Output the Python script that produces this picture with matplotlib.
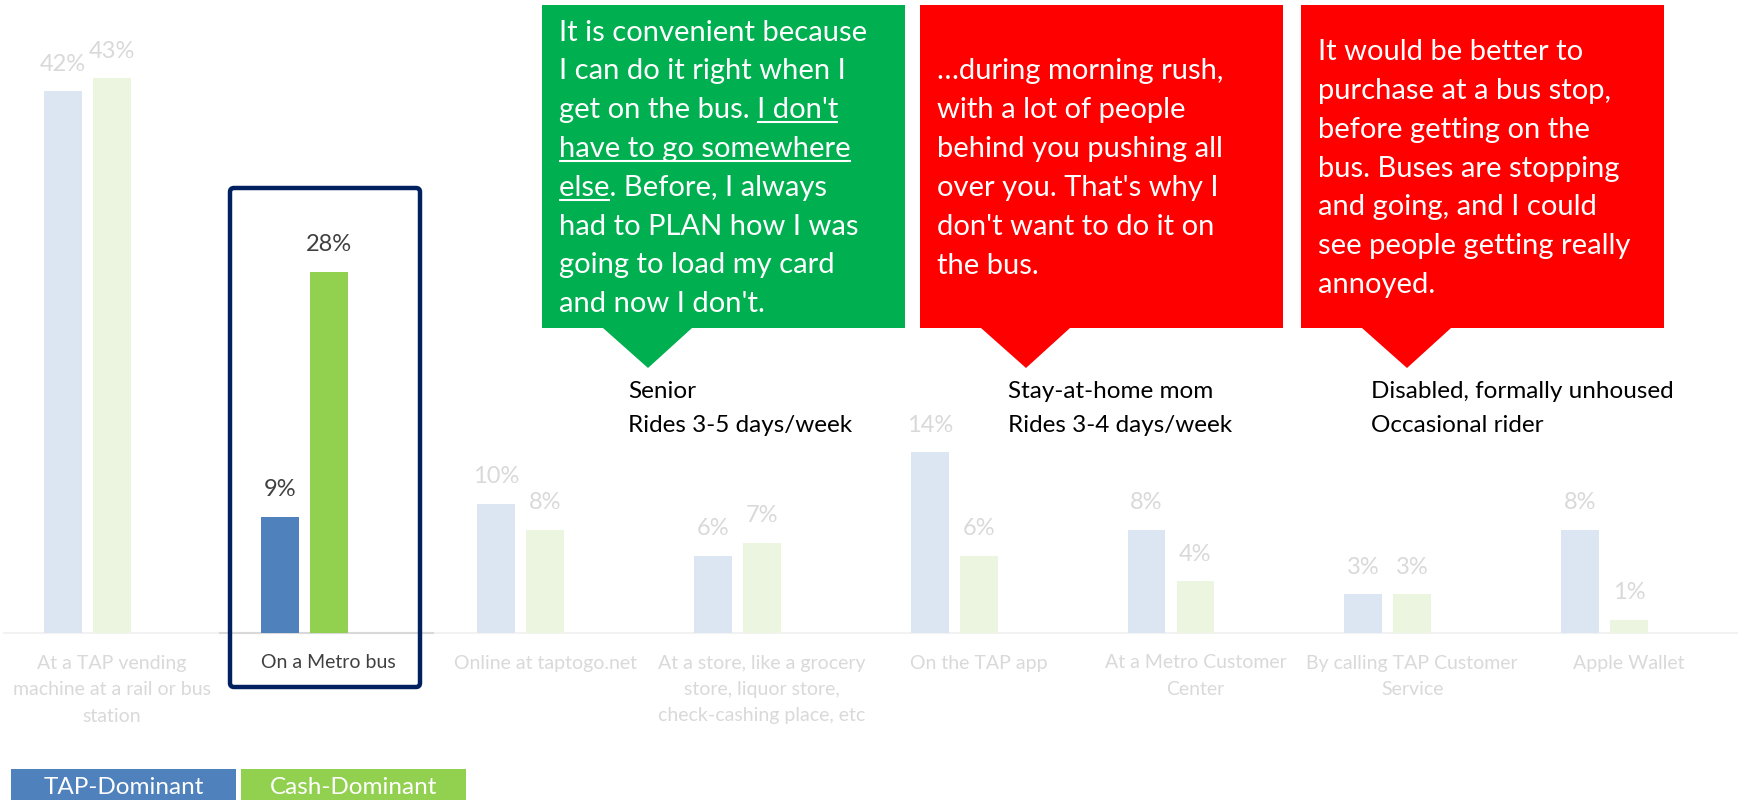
import matplotlib.pyplot as plt
from matplotlib.patches import Rectangle, Polygon, FancyBboxPatch
from matplotlib.transforms import blended_transform_factory
import numpy as np

plt.rcParams['font.family'] = ['Lato', 'DejaVu Sans']

# data
categories = ["At a TAP vending\nmachine at a rail or bus\nstation",
              "On a Metro bus",
              "Online at taptogo.net",
              "At a store, like a grocery\nstore, liquor store,\ncheck-cashing place, etc",
              "On the TAP app",
              "At a Metro Customer\nCenter",
              "By calling TAP Customer\nService",
              "Apple Wallet"]
tap_dominant = [42, 9, 10, 6, 14, 8, 3, 8]
cash_dominant = [43, 28, 8, 7, 6, 4, 3, 1]
highlight = 1  # "On a Metro bus"

quotes = [
    ["It is convenient because", "I can do it right when I", "get on the bus. I don't",
     "have to go somewhere", "else. Before, I always", "had to PLAN how I was",
     "going to load my card", "and now I don't."],
    ["\u2026during morning rush,", "with a lot of people", "behind you pushing all",
     "over you. That's why I", "don't want to do it on", "the bus."],
    ["It would be better to", "purchase at a bus stop,", "before getting on the",
     "bus. Buses are stopping", "and going, and I could", "see people getting really",
     "annoyed."],
]
personas = [["Senior", "Rides 3-5 days/week"],
            ["Stay-at-home mom", "Rides 3-4 days/week"],
            ["Disabled, formally unhoused", "Occasional rider"]]

W, H = 1742, 800
fig = plt.figure(figsize=(W / 100, H / 100), dpi=100)
fig.patch.set_facecolor('white')

# main chart axes (full figure)
ax = fig.add_axes([0, 0, 1, 1])
ax.set_xlim(-0.517, 7.522)
ax.set_ylim(-12.95, 49.07)
ax.axis('off')

# overlay axes in pixel coordinates for annotations
ov = fig.add_axes([0, 0, 1, 1], zorder=3)
ov.set_xlim(0, W)
ov.set_ylim(H, 0)
ov.axis('off')
ov.patch.set_alpha(0)

x = np.arange(len(categories))
bw = 0.175
off = 0.226

tap_cols = ['#4F81BD' if i == highlight else '#DCE6F2' for i in x]
cash_cols = ['#92D050' if i == highlight else '#EBF5E0' for i in x]
lab_cols = ['#404040' if i == highlight else '#D9D9D9' for i in x]

ax.bar(x - off, tap_dominant, bw, color=tap_cols, zorder=2)
ax.bar(x, cash_dominant, bw, color=cash_cols, zorder=2)

# baseline
ax.plot([-0.5, 7.5], [0, 0], color='#F2F2F2', lw=1.5, zorder=1)
ax.plot([highlight - 0.5, highlight + 0.48], [0, 0], color='#D9D9D9', lw=1.5, zorder=1)

for i in x:
    ax.annotate(f"{tap_dominant[i]}%", (i - off, tap_dominant[i]), xytext=(0, 19.5),
                textcoords='offset points', ha='center', va='center',
                fontsize=17, color=lab_cols[i])
    ax.annotate(f"{cash_dominant[i]}%", (i, cash_dominant[i]), xytext=(0, 19.5),
                textcoords='offset points', ha='center', va='center',
                fontsize=17, color=lab_cols[i])

# category labels
bt = blended_transform_factory(ax.transData, ov.transData)
for i, lab in enumerate(categories):
    for k, line in enumerate(lab.split('\n')):
        ax.text(i, 663 + 26.5 * k, line, transform=bt, ha='center', va='center',
                fontsize=14, color=lab_cols[i], zorder=4)

# highlight frame
frame = FancyBboxPatch((230, 188), 190, 499, boxstyle="round,pad=0,rounding_size=4",
                       facecolor='none', edgecolor='#002060', linewidth=3.2)
ov.add_patch(frame)

# callouts
box_left = [542, 920, 1301]
box_cols = ['#00B050', '#FF0000', '#FF0000']
top, bottom, bw_px = 5, 328, 363
for bx, col in zip(box_left, box_cols):
    pts = [(bx, top), (bx + bw_px, top), (bx + bw_px, bottom), (bx + 150, bottom),
           (bx + 106, bottom + 40), (bx + 61, bottom), (bx, bottom)]
    ov.add_patch(Polygon(pts, closed=True, facecolor=col, edgecolor='none'))

renderer = fig.canvas.get_renderer()
fs_q = 21
spacing = 38.8
mid = (top + bottom) / 2


def text_width(s):
    t = ov.text(0, 0, s, fontsize=fs_q)
    w = t.get_window_extent(renderer).width
    t.remove()
    return w


for bx, lines in zip(box_left, quotes):
    n = len(lines)
    for k, line in enumerate(lines):
        yb = mid + (k - (n - 1) / 2) * spacing + 10
        ov.text(bx + 17, yb, line, fontsize=fs_q, color='white', ha='left', va='baseline')

# underlines in the first quote
lines = quotes[0]
n = len(lines)
ul = [(2, "I don't", 'right'), (3, lines[3], 'left'), (4, "else", 'left')]
for k, part, side in ul:
    yb = mid + (k - (n - 1) / 2) * spacing + 10 + 4
    x0 = box_left[0] + 17
    if side == 'right':
        full = text_width(lines[k])
        w = text_width(part)
        xs, xe = x0 + full - w, x0 + full
    else:
        xs, xe = x0, x0 + text_width(part)
    ov.plot([xs, xe], [yb, yb], color='white', lw=1.5, solid_capstyle='butt')

# personas
pers_x = [628, 1008, 1371]
for px, pl in zip(pers_x, personas):
    for k, line in enumerate(pl):
        ov.text(px, 392 + 34 * k, line, fontsize=17.5, color='black', ha='left', va='center')

# legend
leg = [("TAP-Dominant", '#4F81BD', 11), ("Cash-Dominant", '#92D050', 241)]
for name, col, lx in leg:
    ov.add_patch(Rectangle((lx, 769), 225, 40, facecolor=col, edgecolor='none'))
    ov.text(lx + 112.5, 787, name, fontsize=17.5, color='white', ha='center', va='center')

fig.savefig('out.png', dpi=100, facecolor='white')
